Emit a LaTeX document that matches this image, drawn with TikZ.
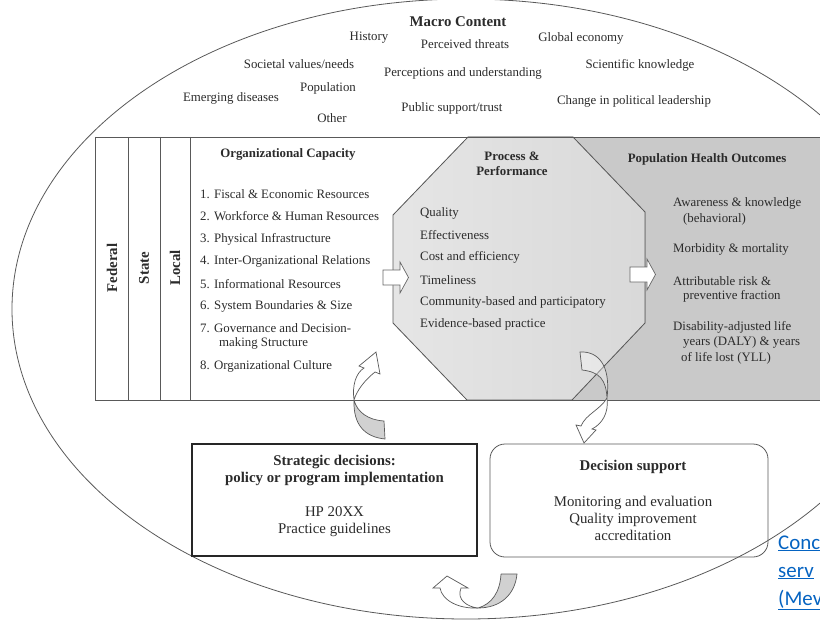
\documentclass[tikz,border=0pt]{standalone}
\usepackage{fontspec}
\setmainfont{Liberation Serif}
\newfontfamily\linkfont{Carlito}
\usepackage{tikz}
\usetikzlibrary{calc}
\definecolor{txt}{HTML}{2B2B2B}
\definecolor{linkblue}{HTML}{0563C1}

\begin{document}
\begin{tikzpicture}[x=1bp,y=-1bp,
  every node/.style={text=txt, inner sep=0pt, font=\fontsize{12.9}{15}\selectfont},
  headtxt/.style={font=\fontsize{12.9}{15}\selectfont\bfseries},
  bighead/.style={font=\fontsize{14.9}{17.5}\selectfont\bfseries},
  bigtxt/.style={font=\fontsize{14.9}{17.5}\selectfont},
  linktxt/.style={anchor=base west, text=linkblue, font=\linkfont\fontsize{21}{28}\selectfont},
  frame/.style={draw=black!65, line width=0.8bp},
  blockarrow/.style={draw=black!60, fill=white, line width=0.7bp},
  ribbon/.style={draw=black!65, line width=0.7bp, fill=white},
  ribbonback/.style={draw=black!65, line width=0.7bp, fill=black!18}]
\useasboundingbox (0,0) rectangle (820,622);
\clip (0,0) rectangle (820,622);

\draw[black!65, line width=0.8bp] (466,309) ellipse [x radius=454bp, y radius=310bp];

\fill[black!21] (572,137) rectangle (820,400);
\filldraw[draw=black!65, line width=0.8bp, left color=black!10, right color=black!15]
  (468,137) -- (573,137) -- (645,212) -- (645,323) -- (572,400) -- (467,400) -- (393,323) -- (393,215) -- cycle;
\draw[frame] (95,137) -- (820,137) (95,400) -- (820,400);
\foreach \x in {95,128,160,190}
  \draw[frame] (\x,137) -- (\x,400);

\node[bighead] (macro) at (458,22) {Macro Content};
\node (history) at (369,38) {History};
\node (threats) at (465,44) {Perceived threats};
\node (economy) at (581,38) {Global economy};
\node (values) at (299,64) {Societal values/needs};
\node (perceptions) at (463,73) {Perceptions and understanding};
\node (science) at (640,65) {Scientific knowledge};
\node (population) at (328,88) {Population};
\node (diseases) at (231,98) {Emerging diseases};
\node (trust) at (452,108) {Public support/trust};
\node (leadership) at (634,101) {Change in political leadership};
\node (other) at (332,118) {Other};

\node[bighead, rotate=90] (federal) at (112,268) {Federal};
\node[bighead, rotate=90] (state) at (144,268) {State};
\node[bighead, rotate=90] (local) at (175,268) {Local};

\node[headtxt] (capacity) at (288,154) {Organizational Capacity};
\foreach \y/\t [count=\i] in {194/1. Fiscal \& Economic Resources,
    216/2. Workforce \& Human Resources, 239/3. Physical Infrastructure,
    261/4. Inter-Organizational Relations, 284/5. Informational Resources,
    306/6. System Boundaries \& Size, 328/7. Governance and Decision-,
    366/8. Organizational Culture}
  \node[anchor=west] (cap\i) at (200,\y) {\t};
\node[anchor=west] (cap7b) at (219,343) {making Structure};

\node[headtxt, align=center] (process) at (512,164) {Process \&\\Performance};
\foreach \y/\t [count=\i] in {213/Quality, 235/Effectiveness, 257/Cost and efficiency,
    280/Timeliness, 302/Community-based and participatory, 324/Evidence-based practice}
  \node[anchor=west] (proc\i) at (420,\y) {\t};

\node[headtxt] (outcomes) at (707,159) {Population Health Outcomes};
\node[anchor=west] (out1) at (673,203) {Awareness \& knowledge};
\node[anchor=west] (out1b) at (683,219) {(behavioral)};
\node[anchor=west] (out2) at (673,249) {Morbidity \& mortality};
\node[anchor=west] (out3) at (673,281) {Attributable risk \&};
\node[anchor=west] (out3b) at (683,296) {preventive fraction};
\node[anchor=west] (out4) at (673,327) {Disability-adjusted life};
\node[anchor=west] (out4b) at (683,342) {years (DALY) \& years};
\node[anchor=west] (out4c) at (681,358) {of life lost (YLL)};

\coordinate (capOut) at (383,277.5);
\coordinate (procOut) at (630,274.5);
\draw[blockarrow] (capOut) ++(0,-7.5) -- ++(17,0) -- ++(0,-8) -- ++(8.5,15.5) -- ++(-8.5,15.5) -- ++(0,-8) -- ++(-17,0) -- cycle;
\draw[blockarrow] (procOut) ++(0,-7.5) -- ++(17,0) -- ++(0,-8) -- ++(8.5,15.5) -- ++(-8.5,15.5) -- ++(0,-8) -- ++(-17,0) -- cycle;

\node[draw=black!85, line width=1.8bp, minimum width=285bp, minimum height=112bp] (strat) at (334.5,500) {};
\node[bigtxt, align=center] (stratTxt) at (334.5,496) {\textbf{Strategic decisions:}\\\textbf{policy or program implementation}\\[16.5bp]HP 20XX\\Practice guidelines};

\node[draw=black!65, line width=0.8bp, rounded corners=15bp, minimum width=278bp, minimum height=113bp] (dsupport) at (629,500.5) {};
\node[bigtxt, align=center] (dsupportTxt) at (633,500.5) {\textbf{Decision support}\\[18.5bp]Monitoring and evaluation\\Quality improvement\\accreditation};

% strategic -> capacity
\draw[ribbonback] (354,400) .. controls (353,425) and (365,437) .. (385,439) -- (384,421) .. controls (368,420) and (357,412) .. (354,400);
\draw[ribbon] (354,400) .. controls (352,385) and (356,373) .. (364,368) -- (359,366) -- (376,352) -- (380,374) -- (375,372) .. controls (365,380) and (357,390) .. (354,400);
% process -> decision support
\draw[ribbon, fill opacity=0.35] (607,398) .. controls (606,380) and (600,372) .. (582,370) -- (580,352) .. controls (598,351) and (611,365) .. (607,398);
\draw[ribbon] (607,398) .. controls (609,413) and (602,424) .. (592,429) -- (596,430) -- (584,443) -- (576,425) -- (581,426) .. controls (586,414) and (600,410) .. (607,398);
% decision support -> strategic
\draw[ribbonback] (501,574) -- (517,574) .. controls (515,595) and (500,608) .. (478,608) .. controls (492,604) and (500,592) .. (501,574);
\draw[ribbon] (478,608) .. controls (458,609) and (442,600) .. (440,588) -- (433,588) -- (447,576) -- (468,588) -- (461,588) .. controls (456,600) and (468,607) .. (478,608);

\node[linktxt] (linkA) at (778,549) {\underline{Conc}};
\node[linktxt] (linkB) at (778,577) {\underline{serv}};
\node[linktxt] (linkC) at (778,605) {\underline{(Mev}};
\end{tikzpicture}
\end{document}
